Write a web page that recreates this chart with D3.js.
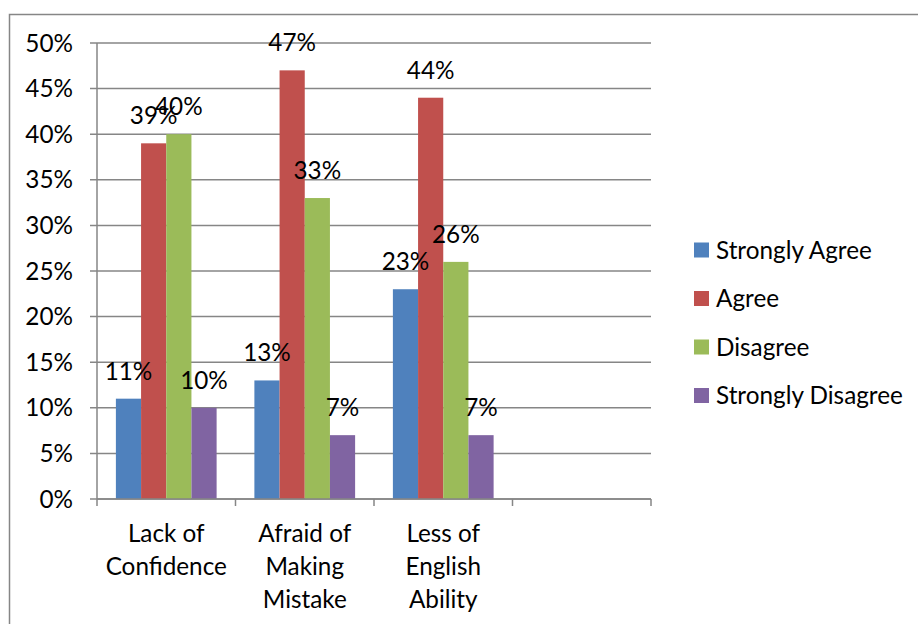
<!DOCTYPE html>
<html><head><meta charset="utf-8">
<script src="https://cdn.jsdelivr.net/npm/d3@7"></script>
<style>
html,body{margin:0;padding:0;background:#fff;}
svg{display:block;font-family:Lato,"Open Sans",sans-serif;}
</style></head>
<body>
<svg id="chart" width="918" height="624"></svg>
<script>
const categories = ["Lack of\nConfidence", "Afraid of\nMaking\nMistake", "Less of\nEnglish\nAbility", ""];
const seriesNames = ["Strongly Agree", "Agree", "Disagree", "Strongly Disagree"];
const stronglyAgree = [0.11, 0.13, 0.23, null];
const agree = [0.39, 0.47, 0.44, null];
const disagree = [0.40, 0.33, 0.26, null];
const stronglyDisagree = [0.10, 0.07, 0.07, null];
const yTicks = [0, 0.05, 0.10, 0.15, 0.20, 0.25, 0.30, 0.35, 0.40, 0.45, 0.50];
const colors = ["#4F81BD", "#C0504D", "#9BBB59", "#8064A2"];

(function () {
const seriesValues = [stronglyAgree, agree, disagree, stronglyDisagree];
const svg = d3.select("#chart");
const fontSize = 24.3;
const gridColor = "#868686";

// outer frame
svg.append("rect").attr("x", 9.5).attr("y", 14.5).attr("width", 1000).attr("height", 1000)
  .attr("fill", "none").attr("stroke", gridColor).attr("stroke-width", 1.5);

const pLeft = 97, pRight = 651, pTop = 43, pBottom = 499;
const x0 = d3.scaleBand().domain(d3.range(categories.length)).range([pLeft, pRight]);
const x1 = d3.scaleBand().domain(d3.range(seriesNames.length)).range([0, x0.bandwidth()]).paddingOuter(0.75).paddingInner(0);
const y = d3.scaleLinear().domain([0, 0.5]).range([pBottom, pTop]);
const pct = d3.format(".0%");

// gridlines
svg.append("g").selectAll("line").data(yTicks).join("line")
  .attr("x1", pLeft - 7).attr("x2", pRight)
  .attr("y1", d => y(d)).attr("y2", d => y(d))
  .attr("stroke", gridColor).attr("stroke-width", 1.5);

// y tick labels
svg.append("g").selectAll("text").data(yTicks).join("text")
  .attr("x", 73).attr("y", d => y(d) + 8.5)
  .attr("text-anchor", "end").attr("font-size", fontSize).attr("fill", "#000")
  .text(d => pct(d));

// bars
const groups = svg.append("g").selectAll("g").data(categories.map((c, i) => i)).join("g")
  .attr("transform", i => `translate(${x0(i)},0)`);
groups.selectAll("rect").data(i => seriesValues.map((s, k) => ({k, v: s[i]})).filter(d => d.v != null))
  .join("rect")
  .attr("x", d => x1(d.k)).attr("width", x1.bandwidth())
  .attr("y", d => y(d.v)).attr("height", d => y(0) - y(d.v))
  .attr("fill", d => colors[d.k]);
groups.selectAll("text").data(i => seriesValues.map((s, k) => ({k, v: s[i]})).filter(d => d.v != null))
  .join("text")
  .attr("x", d => x1(d.k) + x1.bandwidth() / 2).attr("y", d => y(d.v) - 19)
  .attr("text-anchor", "middle").attr("font-size", fontSize).attr("fill", "#000")
  .text(d => pct(d.v));

// axes lines
svg.append("line").attr("x1", pLeft).attr("x2", pLeft).attr("y1", pTop).attr("y2", pBottom)
  .attr("stroke", gridColor).attr("stroke-width", 1.5);
svg.append("line").attr("x1", pLeft).attr("x2", pRight).attr("y1", pBottom).attr("y2", pBottom)
  .attr("stroke", gridColor).attr("stroke-width", 1.5);
const bounds = d3.range(categories.length + 1).map(i => i < categories.length ? x0(i) : pRight);
svg.append("g").selectAll("line").data(bounds).join("line")
  .attr("x1", d => d).attr("x2", d => d).attr("y1", pBottom).attr("y2", pBottom + 7)
  .attr("stroke", gridColor).attr("stroke-width", 1.5);

// category labels
const cl = svg.append("g").selectAll("text").data(categories.map((c, i) => i)).join("text")
  .attr("text-anchor", "middle").attr("font-size", fontSize).attr("fill", "#000");
cl.selectAll("tspan").data(i => categories[i] ? categories[i].split("\n").map(t => ({t, i})) : [])
  .join("tspan")
  .attr("x", d => x0(d.i) + x0.bandwidth() / 2)
  .attr("y", (d, j) => 542 + j * 33)
  .text(d => d.t);

// legend
const lg = svg.append("g").selectAll("g").data(seriesNames).join("g")
  .attr("transform", (d, i) => `translate(694,${250 + i * 48.5})`);
lg.append("rect").attr("x", 0).attr("y", -7.5).attr("width", 15).attr("height", 15).attr("fill", (d, i) => colors[i]);
lg.append("text").attr("x", 22).attr("y", 8.5).attr("font-size", fontSize).attr("fill", "#000").text(d => d);
})();
</script>
</body></html>
